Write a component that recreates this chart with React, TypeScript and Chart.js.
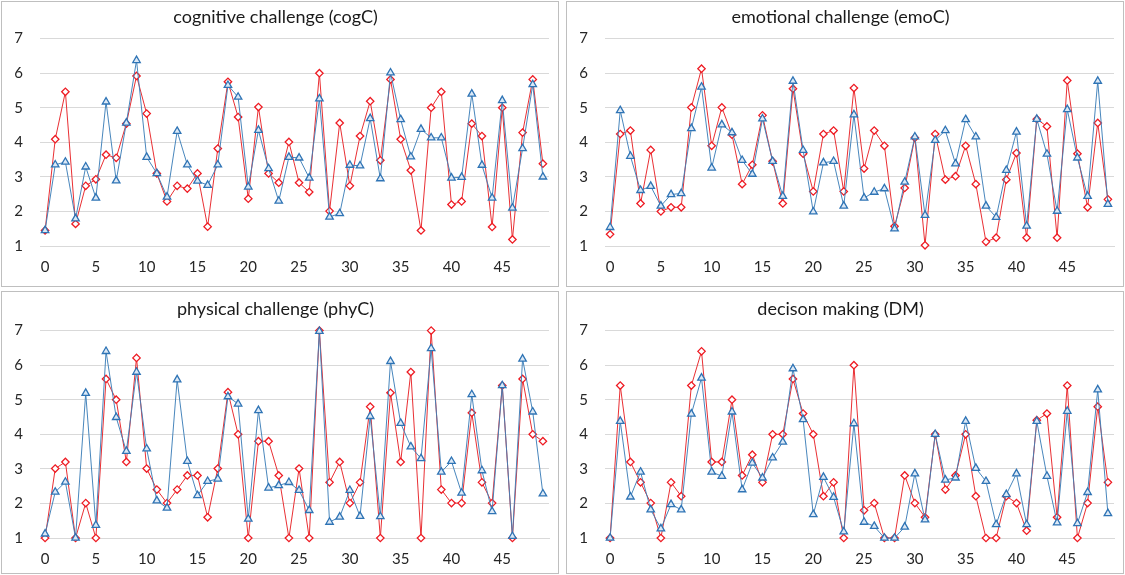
import React, { useEffect, useRef } from "react";
import { Chart, registerables } from "chart.js";

Chart.register(...registerables);

const categories = [
  0, 1, 2, 3, 4, 5, 6, 7, 8, 9, 10, 11, 12, 13, 14, 15, 16, 17, 18, 19, 20, 21, 22, 23, 24,
  25, 26, 27, 28, 29, 30, 31, 32, 33, 34, 35, 36, 37, 38, 39, 40, 41, 42, 43, 44, 45, 46, 47, 48, 49,
];
const xTickValues = [0, 5, 10, 15, 20, 25, 30, 35, 40, 45];
const yTickValues = [1, 2, 3, 4, 5, 6, 7];

const cogRed = [
  1.45, 4.09, 5.46, 1.64, 2.74, 2.93, 3.64, 3.55, 4.54, 5.92, 4.83, 3.1, 2.29, 2.74, 2.66, 3.1, 1.56,
  3.82, 5.75, 4.73, 2.37, 5.02, 3.1, 2.83, 4.01, 2.83, 2.56, 6.0, 2.01, 4.56, 2.74, 4.18, 5.19, 3.48,
  5.82, 4.09, 3.19, 1.45, 5.0, 5.46, 2.2, 2.29, 4.54, 4.18, 1.55, 5.0, 1.19, 4.28, 5.82, 3.38,
];
const cogBlue = [
  1.45, 3.35, 3.43, 1.79, 3.29, 2.39, 5.17, 2.89, 4.56, 6.37, 3.57, 3.1, 2.42, 4.32, 3.35, 2.88, 2.76,
  3.35, 5.65, 5.31, 2.71, 4.35, 3.24, 2.3, 3.57, 3.55, 2.97, 5.26, 1.84, 1.94, 3.34, 3.32, 4.69, 2.95,
  6.01, 4.66, 3.58, 4.38, 4.13, 4.13, 2.97, 2.99, 5.4, 3.34, 2.39, 5.21, 2.1, 3.82, 5.67, 3.0,
];

const emoRed = [
  1.34, 4.24, 4.34, 2.23, 3.78, 2.0, 2.12, 2.12, 5.01, 6.13, 3.9, 5.01, 4.22, 2.79, 3.35, 4.78, 3.45,
  2.23, 5.55, 3.67, 2.58, 4.24, 4.34, 2.58, 5.57, 3.24, 4.34, 3.9, 1.57, 2.68, 4.13, 1.02, 4.24, 2.92,
  3.02, 3.9, 2.79, 1.12, 1.24, 2.92, 3.69, 1.24, 4.67, 4.46, 1.24, 5.79, 3.67, 2.12, 4.56, 2.35,
];
const emoBlue = [
  1.54, 4.92, 3.6, 2.61, 2.73, 2.16, 2.49, 2.52, 4.4, 5.6, 3.26, 4.51, 4.28, 3.48, 3.08, 4.68, 3.45,
  2.44, 5.77, 3.77, 1.99, 3.41, 3.45, 2.16, 4.8, 2.39, 2.56, 2.66, 1.5, 2.85, 4.16, 1.89, 4.06, 4.34,
  3.38, 4.66, 4.16, 2.16, 1.83, 3.19, 4.3, 1.58, 4.67, 3.66, 2.01, 4.95, 3.55, 2.44, 5.77, 2.21,
];

const phyRed = [
  1.0, 3.01, 3.2, 1.0, 2.01, 1.0, 5.6, 5.0, 3.2, 6.21, 3.01, 2.4, 2.01, 2.4, 2.81, 2.81, 1.6,
  3.01, 5.22, 4.0, 1.0, 3.8, 3.8, 2.81, 1.0, 3.01, 1.0, 7.0, 2.61, 3.2, 2.01, 2.61, 4.8, 1.0,
  5.2, 3.2, 5.8, 1.0, 7.0, 2.4, 2.01, 2.01, 4.62, 2.61, 2.01, 5.41, 1.0, 5.6, 4.0, 3.8,
];
const phyBlue = [
  1.12, 2.33, 2.62, 1.0, 5.19, 1.37, 6.4, 4.49, 3.51, 5.8, 3.58, 2.08, 1.87, 5.58, 3.22, 2.23, 2.64,
  2.71, 5.09, 4.88, 1.55, 4.69, 2.45, 2.52, 2.61, 2.38, 1.8, 6.98, 1.46, 1.61, 2.38, 1.63, 4.52, 1.62,
  6.11, 4.32, 3.64, 3.3, 6.48, 2.91, 3.22, 2.3, 5.15, 2.95, 1.77, 5.41, 1.05, 6.18, 4.65, 2.28,
];

const dmRed = [
  1.0, 5.41, 3.2, 2.61, 2.01, 1.0, 2.61, 2.21, 5.41, 6.4, 3.2, 3.2, 5.0, 2.81, 3.41, 2.61, 4.0,
  4.0, 5.6, 4.6, 4.0, 2.21, 2.61, 1.0, 6.0, 1.8, 2.01, 1.0, 1.0, 2.81, 2.01, 1.6, 4.0, 2.4,
  2.81, 4.0, 2.21, 1.0, 1.0, 2.21, 2.01, 1.21, 4.41, 4.6, 1.6, 5.41, 1.0, 2.01, 4.8, 2.61,
];
const dmBlue = [
  1.0, 4.38, 2.19, 2.91, 1.82, 1.27, 1.97, 1.82, 4.59, 5.63, 2.91, 2.79, 4.65, 2.4, 3.17, 2.74, 3.32,
  3.78, 5.9, 4.43, 1.68, 2.76, 2.18, 1.18, 4.31, 1.46, 1.34, 1.0, 1.0, 1.32, 2.86, 1.53, 4.0, 2.68,
  2.74, 4.38, 3.02, 2.64, 1.39, 2.26, 2.86, 1.39, 4.38, 2.79, 1.44, 4.67, 1.42, 2.32, 5.29, 1.71,
];

const FONT = "Lato, 'Liberation Sans', sans-serif";

type PanelProps = {
  title: string;
  red: number[];
  blue: number[];
  left: number;
  top: number;
  width: number;
  height: number;
  titleTop: number;
  bottomPad: number;
};

function Panel({ title, red, blue, left, top, width, height, titleTop, bottomPad }: PanelProps) {
  const ref = useRef<HTMLCanvasElement | null>(null);
  useEffect(() => {
    if (!ref.current) return;
    const toPts = (vals: number[]) => categories.map((c, i) => ({ x: c, y: vals[i] }));
    const chart = new Chart(ref.current, {
      type: "line",
      data: {
        datasets: [
          {
            label: "red",
            data: toPts(red),
            borderColor: "rgba(232,36,40,0.95)",
            borderWidth: 1,
            pointStyle: "rectRot",
            pointRadius: 3.7,
            pointBorderWidth: 1.3,
            pointBorderColor: "#ee1c24",
            pointBackgroundColor: "#ffffff",
            tension: 0,
            order: 1,
            clip: 10,
          },
          {
            label: "blue",
            data: toPts(blue),
            borderColor: "rgba(62,128,184,0.95)",
            borderWidth: 1,
            pointStyle: "triangle",
            pointRadius: 4.3,
            pointBorderWidth: 1.3,
            pointBorderColor: "#2f74b5",
            pointBackgroundColor: "#dce9f6",
            tension: 0,
            order: 0,
            clip: 10,
          },
        ],
      },
      options: {
        animation: false,
        responsive: false,
        maintainAspectRatio: false,
        layout: { padding: { left: 0, right: 9, top: 0, bottom: bottomPad } },
        plugins: {
          legend: { display: false },
          tooltip: { enabled: false },
          title: {
            display: true,
            text: title,
            color: "#1a1a1a",
            font: { family: FONT, size: 18, weight: "normal" },
            padding: { top: titleTop, bottom: 11 },
          },
        },
        scales: {
          x: {
            type: "linear",
            min: -0.5,
            max: 49.6,
            afterBuildTicks: (s: any) => {
              s.ticks = xTickValues.map((v) => ({ value: v }));
            },
            afterFit: (s: any) => {
              s.height = 30;
            },
            grid: { display: false, drawTicks: false },
            border: { display: true, color: "#d9d9d9", width: 1 },
            ticks: {
              color: "#262626",
              font: { family: FONT, size: 15 },
              padding: 12,
              maxRotation: 0,
              autoSkip: false,
            },
          },
          y: {
            min: 1,
            max: 7,
            afterBuildTicks: (s: any) => {
              s.ticks = yTickValues.map((v) => ({ value: v }));
            },
            afterFit: (s: any) => {
              s.width = 38;
            },
            grid: { color: "#d9d9d9", lineWidth: 1, drawTicks: false },
            border: { display: false },
            ticks: {
              color: "#262626",
              font: { family: FONT, size: 15 },
              padding: 17,
            },
          },
        },
      },
    });
    return () => chart.destroy();
  }, [title, red, blue, titleTop, bottomPad]);

  return (
    <div
      style={{
        position: "absolute",
        left,
        top,
        width: width - 2,
        height: height - 2,
        border: "1px solid #bfbfbf",
        background: "#fff",
      }}
    >
      <canvas ref={ref} width={width - 2} height={height - 2} style={{ display: "block" }} />
    </div>
  );
}

export default function App() {
  return (
    <div
      style={{
        position: "absolute",
        left: 0,
        top: 0,
        width: 1125,
        height: 575,
        background: "#fff",
        overflow: "hidden",
      }}
    >
      <Panel title="cognitive challenge (cogC)" red={cogRed} blue={cogBlue} left={1} top={1} width={558} height={286} titleTop={4} bottomPad={10} />
      <Panel title="emotional challenge (emoC)" red={emoRed} blue={emoBlue} left={566} top={1} width={558} height={286} titleTop={4} bottomPad={10} />
      <Panel title="physical challenge (phyC)" red={phyRed} blue={phyBlue} left={1} top={291} width={558} height={283} titleTop={6} bottomPad={5} />
      <Panel title="decison making (DM)" red={dmRed} blue={dmBlue} left={566} top={291} width={558} height={283} titleTop={6} bottomPad={5} />
    </div>
  );
}
